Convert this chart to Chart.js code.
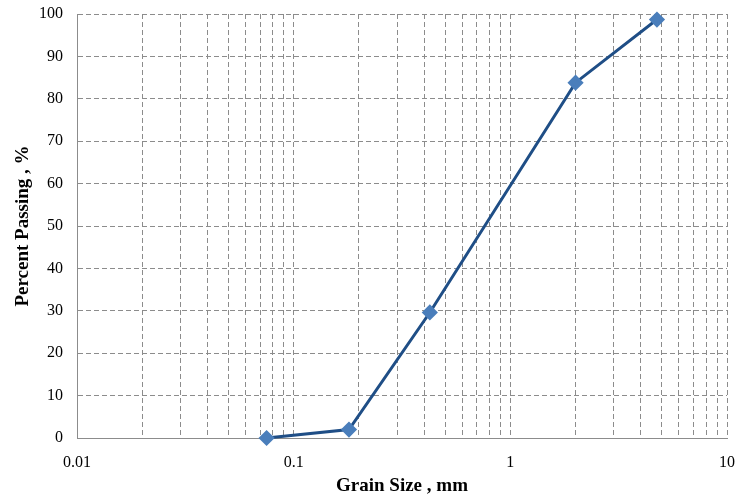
<!DOCTYPE html>
<html lang="en">
<head>
  <meta charset="UTF-8">
  <title>Grain Size Distribution</title>
  <script src="https://cdn.jsdelivr.net/npm/chart.js"></script>
  <style>
    body { margin: 0; padding: 0; background: #fff; }
    #wrap { width: 737px; height: 500px; }
  </style>
</head>
<body>
<div id="wrap"><canvas id="gradation"></canvas></div>
<script>
  // sieve sizes (mm) and percent passing
  const grainSize = [0.075, 0.18, 0.425, 2, 4.75];
  const percentPassing = [0, 2, 29.6, 83.8, 98.7];

  // log grid: every 1..9 multiple between 0.01 and 10
  const xTicks = [0.01, 0.02, 0.03, 0.04, 0.05, 0.06, 0.07, 0.08, 0.09,
                  0.1, 0.2, 0.3, 0.4, 0.5, 0.6, 0.7, 0.8, 0.9,
                  1, 2, 3, 4, 5, 6, 7, 8, 9, 10];
  const xLabels = [0.01, 0.1, 1, 10];
  const yTicks = [0, 10, 20, 30, 40, 50, 60, 70, 80, 90, 100];

  const font = "'Liberation Serif', 'Times New Roman', serif";

  new Chart(document.getElementById('gradation'), {
    type: 'line',
    data: {
      datasets: [{
        data: grainSize.map((x, i) => ({ x: x, y: percentPassing[i] })),
        borderColor: '#1f4e86',
        borderWidth: 3,
        pointStyle: 'rectRot',
        pointRadius: 6,
        pointBackgroundColor: '#4a7ebb',
        pointBorderColor: '#4a7ebb',
        tension: 0,
        clip: false
      }]
    },
    options: {
      responsive: true,
      maintainAspectRatio: false,
      animation: false,
      layout: { padding: { top: 14, right: 10, left: 0, bottom: 0 } },
      plugins: { legend: { display: false }, tooltip: { enabled: false } },
      scales: {
        x: {
          type: 'logarithmic',
          min: 0.01,
          max: 10,
          afterBuildTicks: s => { s.ticks = xTicks.map(v => ({ value: v })); },
          afterFit: s => { s.height = 62; s.paddingLeft = 0; s.paddingRight = 0; },
          grid: { color: '#8c8c8c', lineWidth: 1, drawTicks: false },
          border: { display: true, color: '#8c8c8c', width: 1, dash: [5, 3] },
          ticks: {
            autoSkip: false,
            maxRotation: 0,
            padding: 15,
            color: '#000',
            font: { family: font, size: 16 },
            callback: v => xLabels.includes(v) ? String(v) : ''
          },
          title: {
            display: true,
            text: 'Grain Size , mm',
            color: '#000',
            font: { family: font, size: 19, weight: 'bold' },
            padding: { top: 0, bottom: 3 }
          }
        },
        y: {
          min: 0,
          max: 100,
          afterBuildTicks: s => { s.ticks = yTicks.map(v => ({ value: v })); },
          afterFit: s => { s.width = 77; s.paddingTop = 0; s.paddingBottom = 0; },
          grid: { color: '#8c8c8c', lineWidth: 1, drawTicks: false },
          border: { display: true, color: '#8c8c8c', width: 1, dash: [5, 3] },
          ticks: {
            padding: 14,
            color: '#000',
            font: { family: font, size: 16 }
          },
          title: {
            display: true,
            text: 'Percent Passing , %',
            color: '#000',
            font: { family: font, size: 19, weight: 'bold' },
            padding: { top: 12, bottom: 0 }
          }
        }
      }
    }
  });
</script>
</body>
</html>
